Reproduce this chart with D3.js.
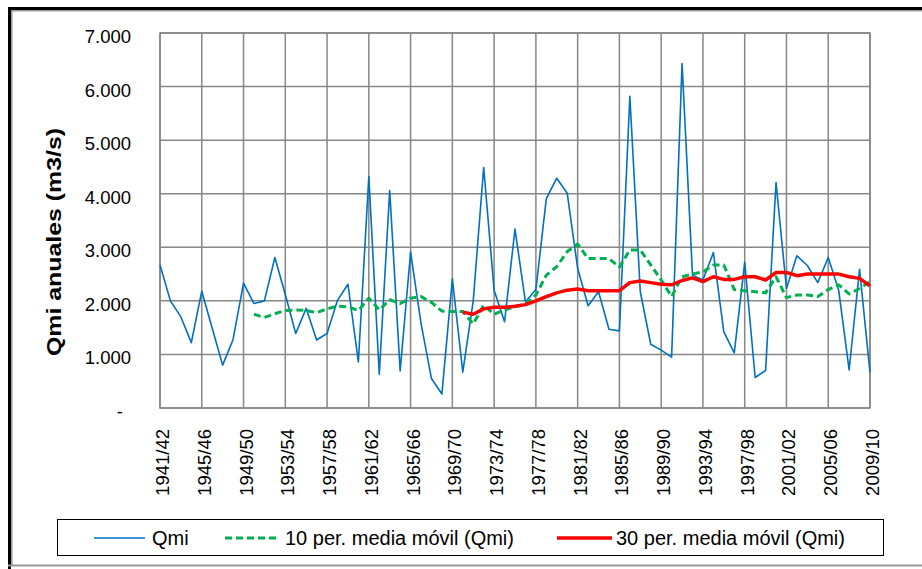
<!DOCTYPE html>
<html>
<head>
<meta charset="utf-8">
<script src="https://cdn.jsdelivr.net/npm/d3@7/dist/d3.min.js"></script>
<style>
  html, body { margin: 0; padding: 0; background: #fff; }
  svg { display: block; }
  text { font-family: "Liberation Sans", Arial, sans-serif; fill: #000; }
</style>
</head>
<body>
<svg id="chart" width="922" height="569"></svg>
<script>
const categories = ["1941/42","1942/43","1943/44","1944/45","1945/46","1946/47","1947/48","1948/49","1949/50","1950/51",
  "1951/52","1952/53","1953/54","1954/55","1955/56","1956/57","1957/58","1958/59","1959/60","1960/61",
  "1961/62","1962/63","1963/64","1964/65","1965/66","1966/67","1967/68","1968/69","1969/70","1970/71",
  "1971/72","1972/73","1973/74","1974/75","1975/76","1976/77","1977/78","1978/79","1979/80","1980/81",
  "1981/82","1982/83","1983/84","1984/85","1985/86","1986/87","1987/88","1988/89","1989/90","1990/91",
  "1991/92","1992/93","1993/94","1994/95","1995/96","1996/97","1997/98","1998/99","1999/00","2000/01",
  "2001/02","2002/03","2003/04","2004/05","2005/06","2006/07","2007/08","2008/09","2009/10"];

const qmi = [2670,2000,1700,1220,2180,1490,800,1280,2330,1950,
  2000,2810,2120,1390,1860,1270,1390,2010,2310,860,
  4320,630,4060,690,2910,1580,550,260,2410,670,
  2000,4490,2200,1610,3340,1980,2210,3910,4290,4010,
  2610,1910,2170,1470,1440,5820,2170,1190,1080,950,
  6430,2480,2390,2900,1420,1030,2720,570,700,4210,
  2230,2840,2660,2340,2810,2200,710,2590,660];

// 10 per. media móvil — starts at 1950/51
const ma10Start = "1950/51";
const ma10 = [1750,1690,1760,1820,1830,1820,1780,1850,1900,1890,
  1820,2050,1830,2020,1950,2050,2080,1970,1810,1800,
  1800,1570,1920,1750,1830,1890,1940,2110,2480,2640,
  2920,3060,2790,2790,2790,2630,2950,2950,2670,2390,
  2080,2450,2500,2540,2670,2670,2210,2190,2170,2150,
  2450,2060,2110,2110,2080,2210,2300,2130,2230,2360];

// 30 per. media móvil — starts at 1970/71
const ma30Start = "1970/71";
const ma30 = [1790,1750,1850,1880,1880,1900,1930,2000,2080,2150,
  2200,2220,2190,2190,2190,2190,2340,2370,2340,2310,
  2300,2380,2430,2360,2450,2400,2400,2450,2450,2390,
  2530,2530,2470,2500,2500,2500,2500,2450,2420,2280];

const tickLabels = ["1941/42","1945/46","1949/50","1953/54","1957/58","1961/62","1965/66","1969/70","1973/74",
  "1977/78","1981/82","1985/86","1989/90","1993/94","1997/98","2001/02","2005/06","2009/10"];
const yTicks = [0,1000,2000,3000,4000,5000,6000,7000];

const seriesNames = ["Qmi", "10 per. media móvil (Qmi)", "30 per. media móvil (Qmi)"];
const yTitle = "Qmi anuales (m3/s)";

const svg = d3.select("#chart");
const L = 160, R = 870, T = 33, B = 408;
const x = d3.scalePoint().domain(categories).range([L, R]);
const y = d3.scaleLinear().domain([0, 7000]).range([B, T]);
const gridColor = "#878787";

// outer frame
svg.append("rect").attr("x",0).attr("y",0).attr("width",922).attr("height",569).attr("fill","#fff");
svg.append("line").attr("x1",8).attr("x2",922).attr("y1",8.5).attr("y2",8.5).attr("stroke","#000").attr("stroke-width",3);
svg.append("line").attr("x1",9.5).attr("x2",9.5).attr("y1",7).attr("y2",569).attr("stroke","#000").attr("stroke-width",3);
svg.append("line").attr("x1",11).attr("x2",922).attr("y1",10.8).attr("y2",10.8).attr("stroke","#999").attr("stroke-width",1.5);
svg.append("line").attr("x1",11.8).attr("x2",11.8).attr("y1",10).attr("y2",566).attr("stroke","#999").attr("stroke-width",1.5);
svg.append("line").attr("x1",8).attr("x2",922).attr("y1",565.5).attr("y2",565.5).attr("stroke","#999").attr("stroke-width",2);

// gridlines
const grid = svg.append("g");
grid.selectAll("line.h").data(yTicks).join("line").attr("class","h")
  .attr("x1",L).attr("x2",R).attr("y1",d=>y(d)).attr("y2",d=>y(d))
  .attr("stroke",gridColor).attr("stroke-width",1.5);
grid.selectAll("line.v").data(tickLabels).join("line").attr("class","v")
  .attr("x1",d=>x(d)).attr("x2",d=>x(d)).attr("y1",T).attr("y2",B)
  .attr("stroke",gridColor).attr("stroke-width",1.5);
svg.append("rect").attr("x",L).attr("y",T).attr("width",R-L).attr("height",B-T)
  .attr("fill","none").attr("stroke",gridColor).attr("stroke-width",1.5);

// y axis
const fmt = d3.formatLocale({decimal: ",", thousands: ".", grouping: [3], currency: ["",""]}).format(",.0f");
const yAxis = d3.axisLeft(y).tickValues(yTicks).tickSize(0).tickPadding(0)
  .tickFormat(d => d === 0 ? "-" : fmt(d));
const gy = svg.append("g").attr("transform", `translate(${L},0)`).call(yAxis);
gy.select(".domain").remove();
gy.selectAll("text").attr("font-size", 18.5).attr("font-family", "Liberation Sans, Arial, sans-serif")
  .attr("dy", 0).attr("y", 9.5).attr("text-anchor","end")
  .attr("x", d => d === 0 ? -37 : -29);

// x axis
const xAxis = d3.axisBottom(x).tickValues(tickLabels).tickSize(0).tickPadding(0);
const gx = svg.append("g").attr("transform", `translate(0,${B})`).call(xAxis);
gx.select(".domain").remove();
gx.selectAll("text").attr("font-size", 18.5).attr("font-family", "Liberation Sans, Arial, sans-serif")
  .attr("transform","rotate(-90)").attr("text-anchor","end")
  .attr("dy", 0).attr("x", -21).attr("y", 8.5);

// y title
svg.append("text").attr("transform","translate(61,242) rotate(-90)")
  .attr("text-anchor","middle").attr("font-weight","bold").attr("font-size",20)
  .attr("textLength",228).attr("lengthAdjust","spacingAndGlyphs")
  .text(yTitle);

// lines
const line = d3.line().x(d => x(d.c)).y(d => y(d.v)).curve(d3.curveLinear);
const qData = categories.map((c,i) => ({c, v: qmi[i]}));
const s10 = categories.indexOf(ma10Start);
const m10Data = ma10.map((v,i) => ({c: categories[s10+i], v}));
const s30 = categories.indexOf(ma30Start);
const m30Data = ma30.map((v,i) => ({c: categories[s30+i], v}));

svg.append("path").datum(qData).attr("d", line).attr("fill","none")
  .attr("stroke","#0070C0").attr("stroke-width",1.6).attr("stroke-linejoin","round");
svg.append("path").datum(m10Data).attr("d", line).attr("fill","none")
  .attr("stroke","#00B050").attr("stroke-width",3).attr("stroke-dasharray","7,4").attr("stroke-linejoin","round");
svg.append("path").datum(m30Data).attr("d", line).attr("fill","none")
  .attr("stroke","#FF0000").attr("stroke-width",3.5).attr("stroke-linejoin","round");

// legend
const lg = svg.append("g");
lg.append("rect").attr("x",57.5).attr("y",519.5).attr("width",826).attr("height",36)
  .attr("fill","#fff").attr("stroke","#000").attr("stroke-width",1);
const legendItems = [
  {name: seriesNames[0], x1: 94, x2: 145, tx: 152, color: "#0070C0", w: 1.6, dash: null},
  {name: seriesNames[1], x1: 225, x2: 280, tx: 285, color: "#00B050", w: 3, dash: "7,4"},
  {name: seriesNames[2], x1: 557, x2: 612, tx: 616, color: "#FF0000", w: 3.5, dash: null}
];
legendItems.forEach(it => {
  lg.append("line").attr("x1",it.x1).attr("x2",it.x2).attr("y1",538).attr("y2",538)
    .attr("stroke",it.color).attr("stroke-width",it.w).attr("stroke-dasharray",it.dash);
  lg.append("text").attr("x",it.tx).attr("y",545).attr("font-size",20).text(it.name);
});
</script>
</body>
</html>
